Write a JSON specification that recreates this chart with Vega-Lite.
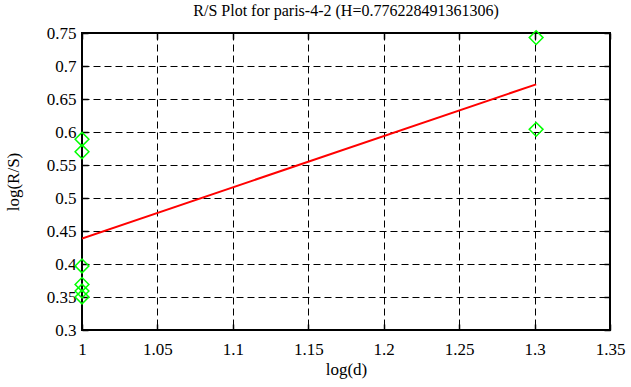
{
  "$schema": "https://vega.github.io/schema/vega-lite/v6.json",
  "autosize": "none",
  "width": 528,
  "height": 297,
  "padding": {"left": 82, "top": 33, "right": 21, "bottom": 57},
  "background": "white",
  "title": {"text": "R/S Plot for paris-4-2 (H=0.776228491361306)", "font": "Liberation Serif", "fontSize": 16, "fontWeight": "normal", "color": "black", "offset": 5},
  "config": {
    "view": {"stroke": "black", "strokeWidth": 2}
  },
  "datasets": {
    "points": [
      {"logd": 1.0, "logrs": 0.589},
      {"logd": 1.0, "logrs": 0.570},
      {"logd": 1.0, "logrs": 0.397},
      {"logd": 1.0, "logrs": 0.369},
      {"logd": 1.0, "logrs": 0.359},
      {"logd": 1.0, "logrs": 0.350},
      {"logd": 1.30103, "logrs": 0.743},
      {"logd": 1.30103, "logrs": 0.604}
    ],
    "fit": [
      {"logd": 1.0, "logrs": 0.4385},
      {"logd": 1.30103, "logrs": 0.6722}
    ]
  },
  "resolve": {"axis": {"x": "independent", "y": "independent"}},
  "layer": [
    {
      "data": {"name": "fit"},
      "mark": {"type": "line", "color": "#ff0000", "strokeWidth": 2, "clip": true},
      "encoding": {
        "x": {"field": "logd", "type": "quantitative", "scale": {"domain": [1, 1.35], "nice": false, "zero": false},
          "axis": {"orient": "bottom", "title": "log(d)", "values": [1, 1.05, 1.1, 1.15, 1.2, 1.25, 1.3, 1.35], "format": "~g",
            "labelFont": "Liberation Serif", "labelFontSize": 17, "labelColor": "black", "labelPadding": 17, "labelFlush": false, "labelOverlap": false,
            "titleFont": "Liberation Serif", "titleFontSize": 17, "titleFontWeight": "normal", "titleColor": "black", "titlePadding": 4,
            "grid": true, "gridColor": "black", "gridDash": [7, 4], "gridOpacity": 1, "gridWidth": 1,
            "ticks": true, "tickSize": -6, "tickColor": "black", "tickWidth": 1.5, "domain": false}},
        "y": {"field": "logrs", "type": "quantitative", "scale": {"domain": [0.3, 0.75], "nice": false, "zero": false},
          "axis": {"orient": "left", "title": "log(R/S)", "values": [0.3, 0.35, 0.4, 0.45, 0.5, 0.55, 0.6, 0.65, 0.7, 0.75], "format": "~g",
            "labelFont": "Liberation Serif", "labelFontSize": 17, "labelColor": "black", "labelPadding": 12, "labelFlush": false, "labelOverlap": false,
            "titleFont": "Liberation Serif", "titleFontSize": 17, "titleFontWeight": "normal", "titleColor": "black", "titlePadding": 24,
            "grid": true, "gridColor": "black", "gridDash": [7, 4], "gridOpacity": 1, "gridWidth": 1,
            "ticks": true, "tickSize": -6, "tickColor": "black", "tickWidth": 1.5, "domain": false}}
      }
    },
    {
      "data": {"name": "points"},
      "mark": {"type": "point", "shape": "diamond", "filled": false, "color": "#00ff00", "size": 190, "strokeWidth": 1.5, "opacity": 1},
      "encoding": {
        "x": {"field": "logd", "type": "quantitative",
          "axis": {"orient": "top", "title": null, "values": [1, 1.05, 1.1, 1.15, 1.2, 1.25, 1.3, 1.35], "labels": false,
            "grid": false, "ticks": true, "tickSize": -6, "tickColor": "black", "tickWidth": 1.5, "domain": false}},
        "y": {"field": "logrs", "type": "quantitative",
          "axis": {"orient": "right", "title": null, "values": [0.3, 0.35, 0.4, 0.45, 0.5, 0.55, 0.6, 0.65, 0.7, 0.75], "labels": false,
            "grid": false, "ticks": true, "tickSize": -6, "tickColor": "black", "tickWidth": 1.5, "domain": false}}
      }
    }
  ]
}
